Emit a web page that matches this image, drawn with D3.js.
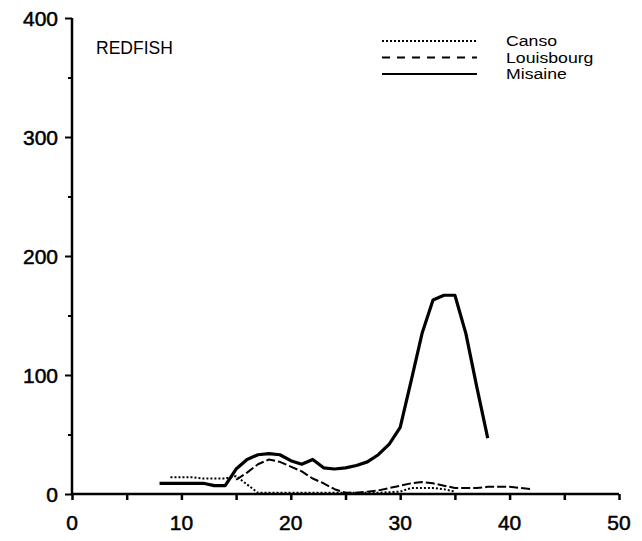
<!DOCTYPE html>
<html>
<head>
<meta charset="utf-8">
<script src="https://cdn.jsdelivr.net/npm/d3@7"></script>
<style>
  body { margin: 0; background: #fff; }
  svg text { font-family: "Liberation Sans", Arial, sans-serif; fill: #000; }
</style>
</head>
<body>
<svg id="chart" width="642" height="541"></svg>
<script>
// values
const xTicks = [0, 10, 20, 30, 40, 50];
const yTicks = [0, 100, 200, 300, 400];

const cansoX = [9, 10, 11, 12, 13, 14, 15, 16, 17, 18, 20, 22, 24, 26, 28, 30, 31, 32, 33, 34, 35];
const cansoY = [14, 14, 14, 13, 13, 13, 15, 8, 1, 1, 1, 1, 1, 1, 1, 2, 5, 5, 5, 4, 2];

const louisX = [15, 16, 17, 18, 19, 20, 21, 22, 23, 24, 25, 26, 27, 28, 29, 30, 31, 32, 33, 34, 35, 36, 37, 38, 39, 40, 41, 42];
const louisY = [12, 18, 25, 29, 27, 23, 19, 13, 9, 4, 1, 1, 2, 3, 5, 7, 9, 10, 9, 7, 5, 5, 5, 6, 6, 6, 5, 4];

const misaineX = [8, 10, 12, 13, 14, 15, 16, 17, 18, 19, 20, 21, 22, 23, 24, 25, 26, 27, 28, 29, 30, 31, 32, 33, 34, 35, 36, 37, 38];
const misaineY = [9, 9, 9, 7, 7, 21, 29, 33, 34, 33, 28, 25, 29, 22, 21, 22, 24, 27, 33, 42, 56, 95, 135, 163, 167, 167, 135, 90, 47];

const seriesNames = ["Canso", "Louisbourg", "Misaine"];

const svg = d3.select("#chart");
const x = d3.scaleLinear().domain([0, 50]).range([72, 619]);
const y = d3.scaleLinear().domain([0, 400]).range([494, 18]);

const styles = {
    Canso: { w: 2, dash: "2,2" },
    Louisbourg: { w: 2, dash: "9,3" },
    Misaine: { w: 3.2, dash: null }
};

// axes
const xAxis = svg.append("g")
    .attr("transform", "translate(0,494)")
    .call(d3.axisBottom(x).tickValues(d3.range(0, 51, 5)).tickSize(6).tickFormat(""));
xAxis.select(".domain").attr("stroke-width", 2.5).attr("d", "M72,0H619");
xAxis.selectAll(".tick line").attr("stroke-width", 2.5);

const yAxis = svg.append("g")
    .attr("transform", "translate(72,0)")
    .call(d3.axisLeft(y).tickValues(d3.range(0, 401, 50)).tickSize(6).tickFormat(""));
yAxis.select(".domain").attr("stroke-width", 2.5).attr("d", "M0,494V18");
yAxis.selectAll(".tick line")
    .attr("stroke-width", 2)
    .attr("x2", d => d % 100 === 0 ? -7 : -4);

svg.append("g").selectAll("text")
    .data(xTicks)
    .enter().append("text")
    .attr("x", d => x(d))
    .attr("y", 530)
    .attr("text-anchor", "middle")
    .attr("font-size", 21)
    .attr("stroke", "#000").attr("stroke-width", 0.5)
    .text(d => d);

svg.append("g").selectAll("text")
    .data(yTicks)
    .enter().append("text")
    .attr("x", 58)
    .attr("y", d => y(d) + 7.5)
    .attr("text-anchor", "end")
    .attr("font-size", 21)
    .attr("stroke", "#000").attr("stroke-width", 0.5)
    .text(d => d);

// lines
const line = d3.line().x(d => x(d[0])).y(d => y(d[1]));
const seriesData = {
    Canso: d3.zip(cansoX, cansoY),
    Louisbourg: d3.zip(louisX, louisY),
    Misaine: d3.zip(misaineX, misaineY)
};

seriesNames.forEach(name => {
    svg.append("path")
        .datum(seriesData[name])
        .attr("fill", "none")
        .attr("stroke", "#000")
        .attr("stroke-width", styles[name].w)
        .attr("stroke-dasharray", styles[name].dash)
        .attr("stroke-linejoin", "round")
        .attr("d", line);
});

// title
svg.append("text")
    .attr("x", 96).attr("y", 54)
    .attr("font-size", 17.5)
    .text("REDFISH");

// legend (text stretched a little sideways, the original font is wide)
const legend = svg.append("g");
seriesNames.forEach((name, i) => {
    const ly = 41 + i * 16.5;
    legend.append("line")
        .attr("x1", 382).attr("x2", 477)
        .attr("y1", ly).attr("y2", ly)
        .attr("stroke", "#000")
        .attr("stroke-width", 2)
        .attr("stroke-dasharray", name === "Louisbourg" ? "8,7" : styles[name].dash);
    legend.append("text")
        .attr("transform", `translate(506,${ly + 5}) scale(1.22,1)`)
        .attr("font-size", 14.5)
        .text(name);
});
</script>
</body>
</html>
